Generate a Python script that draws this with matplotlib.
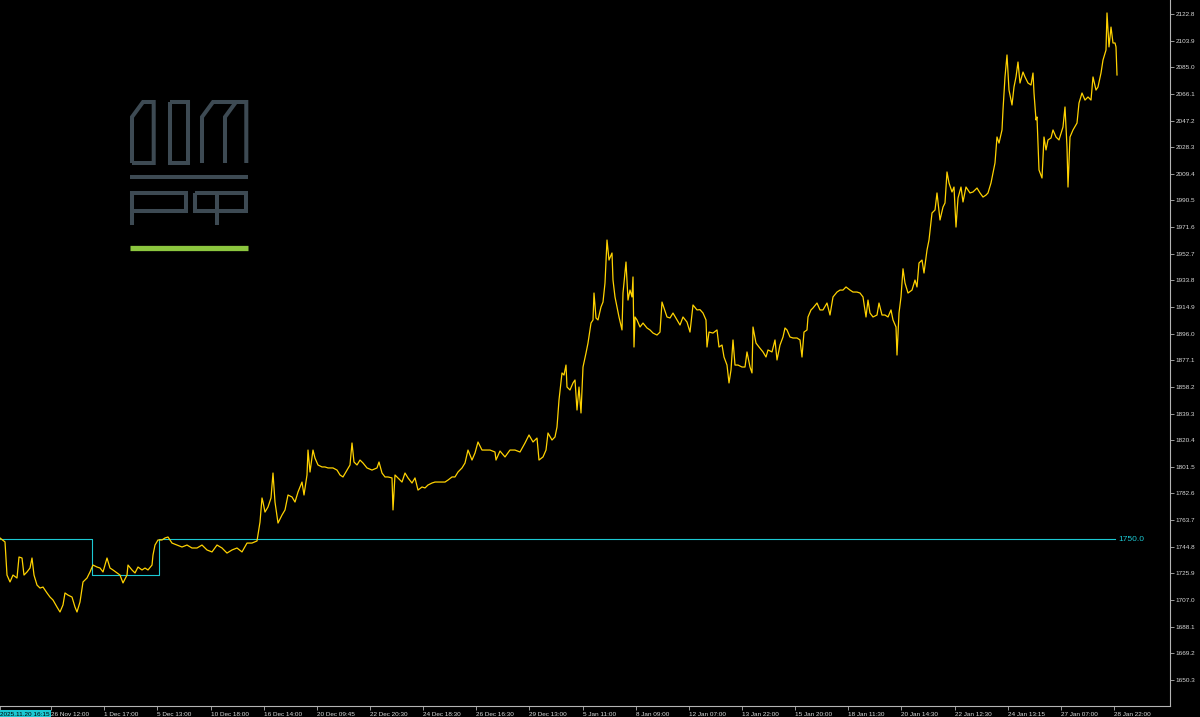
import matplotlib
matplotlib.use("Agg")
import matplotlib.pyplot as plt
import numpy as np

# price path, bar index along the time scale -> close price
bar_idx = [
    0, 5, 7, 10, 13, 17, 19, 22, 24, 27, 30, 32, 34, 37, 40, 43, 47, 50, 53, 57,
    60, 63, 65, 68, 72, 75, 77, 80, 83, 87, 90, 93, 97, 100, 103, 107, 110, 113,
    117, 120, 123, 127, 128, 132, 135, 138, 142, 145, 148, 152, 153, 155, 158,
    162, 165, 168, 172, 177, 182, 187, 192, 197, 202, 207, 212, 217, 222, 227,
    232, 237, 242, 247, 252, 257,
    260, 262, 263, 265, 268, 271, 273, 275, 278, 282, 285, 288, 292, 295, 298,
    302, 304, 307, 308, 310, 313, 315, 318, 322, 325, 328, 333, 337, 340, 343,
    347, 350, 352, 354, 357, 360, 363, 367, 372, 377, 379, 382, 385, 388, 392,
    393, 395, 398, 402, 405, 408, 412, 415, 418, 422, 425, 428, 432, 435, 440,
    445, 448, 452, 455, 458, 462, 465, 468, 472, 475, 478, 482, 487,
    490, 495, 496, 500, 505, 510, 515, 520, 525, 529, 533, 537, 539, 543, 546,
    548, 552, 555, 557, 559, 562, 564, 566, 567, 570, 573, 575, 577, 579, 581,
    583, 586, 588, 591, 593, 594, 596, 598, 601, 603, 605, 607, 609, 612, 613,
    615, 617, 619, 622, 623, 626, 628, 630, 632, 633, 634, 635, 637, 640, 643,
    647, 650, 653, 657, 660, 662, 664, 667, 670, 673, 677, 680, 683, 687, 690,
    693, 697, 700, 703, 706, 707, 709, 713, 717, 719, 722, 724, 727, 729, 731,
    733, 735, 738, 742, 745, 747, 750, 752, 753, 756, 759, 763, 766, 768, 772,
    775, 777, 780, 783, 785, 787, 790, 793, 797, 800, 802, 804, 807, 808, 811,
    813, 817, 820, 823, 827, 830, 833, 837, 840, 843, 846, 850, 853, 857, 860,
    863, 866, 868, 870, 873, 877, 879, 882, 885, 888, 891, 893, 896, 897, 899,
    901, 903, 905, 908, 912, 915, 917, 919, 922, 924, 927, 929, 932, 935, 937,
    940, 943, 945, 947, 949, 952, 954, 956, 958, 961, 963, 966, 970, 973, 977,
    980, 983, 986, 988, 991, 993, 995, 997, 999, 1002, 1003, 1005, 1007, 1009,
    1012, 1014, 1016, 1018, 1020, 1023, 1025, 1028, 1031, 1033, 1034, 1036,
    1037, 1039, 1042, 1044, 1046, 1048, 1051, 1053, 1056, 1059, 1062, 1063,
    1065, 1067, 1068, 1070, 1073, 1077, 1079, 1082, 1085, 1088, 1091, 1093,
    1096, 1098, 1101, 1103, 1106, 1107, 1109, 1111, 1113, 1115, 1116, 1117,
]
close = [
    1751.0, 1748.2, 1724.7, 1719.8, 1724.7, 1722.6, 1737.5, 1736.8, 1724.7,
    1726.9, 1729.7, 1736.8, 1724.7, 1717.6, 1715.5, 1716.2, 1712.0, 1709.1,
    1707.0, 1702.0, 1698.5, 1703.5, 1712.0, 1710.5, 1709.1, 1702.0, 1698.5,
    1705.6, 1719.8, 1722.6, 1726.9, 1731.8, 1730.4, 1729.7, 1726.9, 1736.8,
    1729.7, 1728.3, 1726.2, 1724.7, 1719.1, 1724.7, 1731.8, 1728.3, 1726.2,
    1730.4, 1728.3, 1729.7, 1728.3, 1731.8, 1738.9, 1746.0, 1749.6, 1749.6,
    1751.0, 1751.7, 1747.4, 1746.0, 1744.6, 1746.0, 1743.9, 1743.9, 1746.0,
    1742.5, 1741.1, 1746.0, 1743.9, 1740.3, 1742.5, 1743.9, 1741.1, 1747.4,
    1747.4, 1748.9,
    1762.3, 1779.4, 1776.5, 1769.4, 1773.0, 1779.4, 1797.1, 1776.5, 1761.6,
    1767.3, 1770.9, 1781.5, 1780.1, 1776.5, 1783.6, 1790.7, 1781.5, 1795.7,
    1813.4, 1797.8, 1813.4, 1807.7, 1802.8, 1801.4, 1801.4, 1800.7, 1800.7,
    1799.2, 1795.7, 1794.3, 1799.2, 1802.8, 1818.4, 1804.9, 1802.8, 1806.3,
    1804.2, 1800.7, 1799.2, 1800.7, 1804.9, 1797.1, 1794.3, 1794.3, 1793.6,
    1770.9, 1795.7, 1793.6, 1790.7, 1797.1, 1793.6, 1790.0, 1793.6, 1785.0,
    1787.2, 1786.5, 1788.6, 1790.0, 1790.7, 1790.7, 1790.7, 1792.1, 1794.3,
    1794.3, 1797.8, 1800.7, 1804.2, 1813.4, 1806.3, 1811.3, 1819.1, 1813.4,
    1813.4,
    1813.4, 1812.0, 1806.3, 1812.7, 1808.5, 1813.4, 1813.4, 1812.0, 1818.4,
    1824.1, 1819.1, 1821.9, 1806.3, 1808.5, 1813.4, 1825.5, 1820.5, 1822.7,
    1829.7, 1848.9, 1868.1, 1866.6, 1873.7, 1858.1, 1856.0, 1861.0, 1863.1,
    1841.8, 1858.1, 1839.7, 1872.3, 1882.2, 1889.3, 1903.5, 1905.7, 1924.8,
    1907.1, 1905.7, 1914.9, 1918.4, 1931.9, 1962.4, 1948.2, 1953.2, 1934.0,
    1922.0, 1914.9, 1907.8, 1898.6, 1924.8, 1946.8, 1919.8, 1926.9, 1922.0,
    1936.2, 1886.5, 1907.8, 1905.7, 1900.7, 1903.5, 1900.0, 1898.6, 1896.4,
    1895.0, 1897.1, 1918.4, 1914.2, 1907.8, 1907.1, 1910.6, 1905.7, 1902.1,
    1907.8, 1904.2, 1897.1, 1916.3, 1912.8, 1913.0, 1910.6, 1905.7, 1886.5,
    1897.1, 1896.4, 1898.6, 1886.5, 1887.9, 1879.4, 1873.7, 1861.0, 1870.2,
    1891.5, 1873.7, 1873.7, 1872.3, 1872.3, 1883.0, 1872.3, 1868.1, 1900.7,
    1889.3, 1886.5, 1883.0, 1879.4, 1884.4, 1883.0, 1891.5, 1877.3, 1887.9,
    1893.6, 1900.0, 1898.6, 1893.6, 1892.9, 1892.9, 1891.5, 1879.4, 1897.1,
    1898.6, 1907.8, 1912.8, 1914.2, 1917.7, 1912.8, 1912.8, 1917.7, 1909.2,
    1922.0, 1925.5, 1926.9, 1926.9, 1929.1, 1926.9, 1925.5, 1925.5, 1924.8,
    1922.0, 1907.8, 1919.8, 1910.6, 1907.8, 1909.2, 1917.7, 1909.2, 1909.2,
    1907.8, 1912.8, 1905.7, 1900.7, 1880.8, 1910.6, 1922.0, 1942.0, 1931.9,
    1924.8, 1926.9, 1934.0, 1929.1, 1946.1, 1948.2, 1939.0, 1955.3, 1962.4,
    1981.6, 1983.7, 1995.8, 1976.6, 1985.8, 1988.7, 2010.7, 2002.9, 1996.5,
    2000.0, 1971.6, 1992.2, 2000.0, 1989.4, 2000.0, 1995.8, 1996.5, 1999.3,
    1995.8, 1992.9, 1994.3, 1995.8, 2002.9, 2010.0, 2017.1, 2035.5, 2031.2,
    2040.5, 2054.7, 2078.1, 2093.7, 2068.8, 2058.2, 2071.0, 2078.1, 2088.7,
    2073.8, 2081.6, 2078.1, 2073.8, 2072.4, 2080.9, 2066.7, 2047.6, 2049.7,
    2012.1, 2006.4, 2035.5, 2026.3, 2033.4, 2034.8, 2040.5, 2035.5, 2033.4,
    2040.5, 2042.6, 2056.8, 2028.4, 2000.0, 2035.5, 2040.5, 2045.4, 2059.6,
    2066.7, 2061.7, 2063.9, 2061.7, 2078.1, 2068.8, 2071.0, 2080.9, 2090.1,
    2097.2, 2123.5, 2099.4, 2113.5, 2102.2, 2102.2, 2099.4, 2079.5,
]

# cyan level line (steps)
level_edges = [0, 92, 159, 1115]
level_values = [1750.0, 1725.0, 1750.0]

# axis scales
y_ticks = [1650.3, 1669.2, 1688.1, 1707.0, 1725.9, 1744.8, 1763.7, 1782.6,
           1801.5, 1820.4, 1839.3, 1858.2, 1877.1, 1896.0, 1914.9, 1933.8,
           1952.7, 1971.6, 1990.5, 2009.4, 2028.3, 2047.2, 2066.1, 2085.0,
           2103.9, 2122.8]
x_tick_bars = [0, 51, 104, 157, 211, 264, 317, 370, 423, 476, 529, 583, 636,
               689, 742, 795, 848, 901, 955, 1008, 1061, 1114]
x_tick_labels = ["2025.11.20 16:15", "26 Nov 12:00", "1 Dec 17:00",
                 "5 Dec 13:00", "10 Dec 18:00", "16 Dec 14:00",
                 "20 Dec 09:45", "22 Dec 20:30", "24 Dec 18:30",
                 "26 Dec 16:30", "29 Dec 13:00", "5 Jan 11:00",
                 "8 Jan 09:00", "12 Jan 07:00", "13 Jan 22:00",
                 "15 Jan 20:00", "18 Jan 11:30", "20 Jan 14:30",
                 "22 Jan 12:30", "24 Jan 13:15", "27 Jan 07:00",
                 "28 Jan 22:00"]

W, H = 1200, 717
GRAY = "#b4b4b4"
YELLOW = "#ffd200"
CYAN = "#1cc8d2"


def draw_logo(fig):
    # ДОМ.РФ mark, drawn in figure pixels
    lax = fig.add_axes([0, 0, 1, 1], zorder=0)
    lax.set_xlim(0, W)
    lax.set_ylim(H, 0)
    lax.axis("off")
    lax.patch.set_alpha(0)
    kw = dict(color="#3d4a53", lw=2.9, solid_joinstyle="miter",
              solid_capstyle="butt")
    strokes = [
        # Д
        [(132, 163), (132, 117), (143, 102), (153.7, 102), (153.7, 163),
         (132, 163)],
        # О
        [(169.7, 102), (188, 102), (188, 163), (169.7, 163), (169.7, 102)],
        # М
        [(202, 163), (202, 117), (213, 102), (246.3, 102), (246.3, 163)],
        [(225, 163), (225, 117), (236, 102)],
        # bar
        [(130, 177), (248.3, 177)],
        # Р
        [(132, 225), (132, 193), (186.3, 193), (186.3, 210.7), (132, 210.7)],
        # Ф
        [(195.3, 193), (246.3, 193), (246.3, 210.7), (195.3, 210.7),
         (195.3, 193)],
        [(216.7, 193), (216.7, 225)],
    ]
    for s in strokes:
        xs, ys = zip(*s)
        lax.plot(xs, ys, **kw)
    lax.plot([130, 248.3], [248.3, 248.3], color="#8cc63f", lw=3.8,
             solid_capstyle="butt")


def main():
    fig = plt.figure(figsize=(W / 100, H / 100), dpi=100, facecolor="black")
    draw_logo(fig)

    ax = fig.add_axes([0, 11 / H, 1170 / W, 1 - 11 / H], zorder=1)
    ax.patch.set_alpha(0)

    ax.plot(bar_idx, close, color=YELLOW, lw=0.9, zorder=3)

    # step level
    xs, ys = [], []
    for i, v in enumerate(level_values):
        xs += [level_edges[i], level_edges[i + 1]]
        ys += [v, v]
    ax.plot(xs, ys, color=CYAN, lw=0.8, zorder=2)
    ax.text(level_edges[-1] + 3, level_values[-1], "%.1f" % level_values[-1],
            color=CYAN, fontsize=6, family="Liberation Sans",
            ha="left", va="center")

    ax.set_xlim(0, 1170)
    ax.set_ylim(1631.8, 2132.7)

    for side in ("left", "top"):
        ax.spines[side].set_visible(False)
    for side in ("right", "bottom"):
        ax.spines[side].set_color(GRAY)
        ax.spines[side].set_linewidth(0.8)

    ax.yaxis.tick_right()
    ax.set_yticks(y_ticks)
    ax.set_yticklabels(["%.1f" % v for v in y_ticks])
    ax.set_xticks(x_tick_bars)
    ax.set_xticklabels(x_tick_labels, ha="left")
    ax.tick_params(axis="both", colors=GRAY, length=3, width=0.6,
                   labelsize=4.6, pad=1, labelcolor="#d8d8d8")
    for lab in ax.get_xticklabels() + ax.get_yticklabels():
        lab.set_family("Liberation Sans")
    first = ax.get_xticklabels()[0]
    first.set_color("black")
    first.set_bbox(dict(facecolor=CYAN, edgecolor="none", pad=1.2))

    fig.savefig("out.png", dpi=100, facecolor="black")


if __name__ == "__main__":
    main()
